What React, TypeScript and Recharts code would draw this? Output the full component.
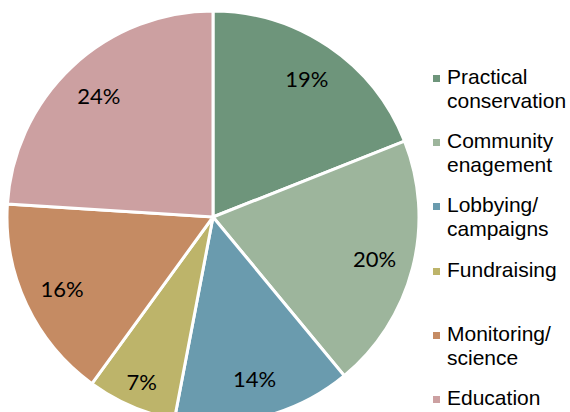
import React from "react";
import { PieChart, Pie, Cell, Legend } from "recharts";

const categories = [
  "Practical conservation",
  "Community enagement",
  "Lobbying/ campaigns",
  "Fundraising",
  "Monitoring/ science",
  "Education",
];
const shares = [19, 20, 14, 7, 16, 24];
const colors = ["#6E957B", "#9DB59C", "#6A9BAE", "#BDB46A", "#C58B63", "#CCA0A1"];

const data = categories.map((name, i) => ({ name, value: shares[i] }));

const RADIAN = Math.PI / 180;

const renderLabel = (props: any) => {
  const { cx, cy, midAngle, outerRadius, percent } = props;
  const factor = percent < 0.1 ? 0.87 : 0.81;
  const r = outerRadius * factor;
  const x = cx + r * Math.cos(-midAngle * RADIAN);
  const y = cy + r * Math.sin(-midAngle * RADIAN);
  return (
    <text
      x={x}
      y={y}
      textAnchor="middle"
      dominantBaseline="central"
      fill="#000"
      fontFamily="Lato, 'Open Sans', sans-serif"
      fontSize={22}
    >
      {`${Math.round(percent * 100)}%`}
    </text>
  );
};

const renderLegend = (props: any) => {
  const payload = [...(props.payload || [])].sort(
    (a: any, b: any) => categories.indexOf(a.value) - categories.indexOf(b.value)
  );
  return (
    <div style={{ position: "relative", width: 137, height: 350 }}>
      {payload.map((entry: any, i: number) => (
        <div
          key={i}
          style={{
            position: "absolute",
            left: 0,
            top: i * 64.2,
            width: 137,
          }}
        >
          <div
            style={{
              position: "absolute",
              left: 0,
              top: 10,
              width: 7,
              height: 7,
              background: entry.color,
            }}
          />
          <div
            style={{
              position: "absolute",
              left: 14,
              top: 0,
              width: 123,
              fontFamily: "'Liberation Sans', Arial, sans-serif",
              fontSize: 21,
              lineHeight: "24px",
              color: "#000",
            }}
          >
            {entry.value}
          </div>
        </div>
      ))}
    </div>
  );
};

export default function App() {
  return (
    <div
      style={{
        position: "absolute",
        left: 0,
        top: 0,
        width: 570,
        height: 412,
        overflow: "hidden",
        background: "#fff",
      }}
    >
      <PieChart width={570} height={412} margin={{ top: 0, right: 0, bottom: 0, left: 0 }}>
        <Pie
          data={data}
          dataKey="value"
          nameKey="name"
          cx={213}
          cy={217}
          outerRadius={206}
          startAngle={90}
          endAngle={-270}
          stroke="#fff"
          strokeWidth={3}
          label={renderLabel}
          labelLine={false}
          isAnimationActive={false}
        >
          {data.map((d, i) => (
            <Cell key={d.name} fill={colors[i]} />
          ))}
        </Pie>
        <Legend
          layout="vertical"
          align="right"
          verticalAlign="top"
          itemSorter={null as any}
          content={renderLegend}
          wrapperStyle={{ position: "absolute", left: 433, top: 65, width: 137 }}
        />
      </PieChart>
    </div>
  );
}
